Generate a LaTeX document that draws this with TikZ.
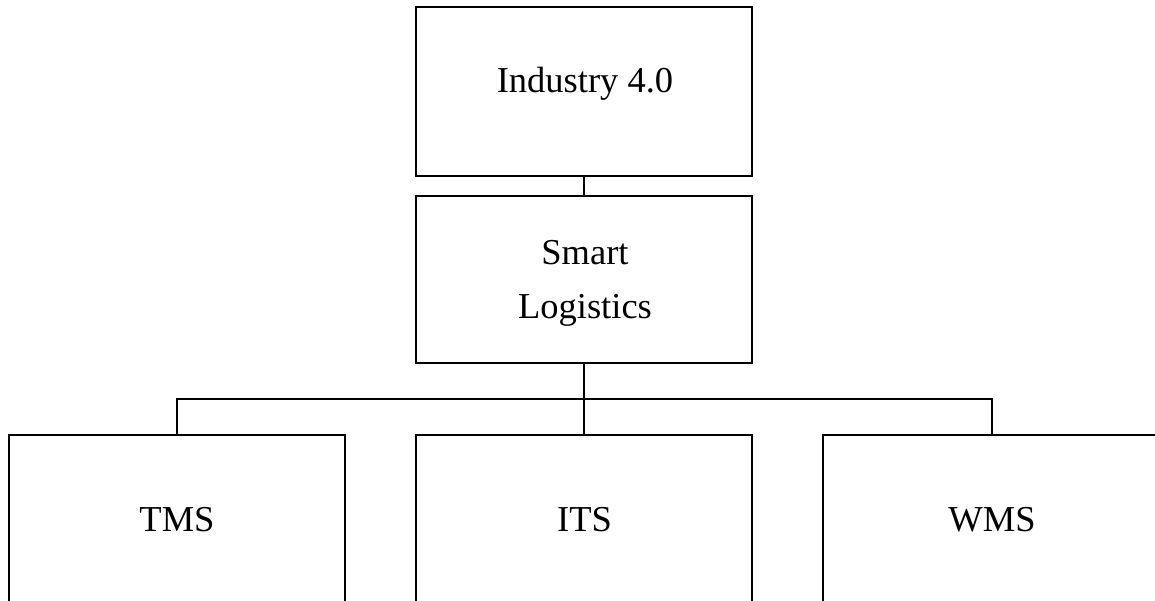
\documentclass[tikz,border=0pt]{standalone}
\usepackage{fontspec}
\setmainfont{Liberation Serif}
\begin{document}
\begin{tikzpicture}[x=1pt,y=-1pt,
  box/.style={draw=black,line width=1.6pt,minimum width=#1,inner sep=0pt,outer sep=0pt},
  lbl/.style={anchor=base,inner sep=0pt,font=\fontsize{36.5}{53}\selectfont,align=center},
  conn/.style={draw=black,line width=1.8pt}]
\useasboundingbox (0,0) rectangle (1155,601);
\clip (0,0) rectangle (1155,601);
\node[box=336pt,minimum height=169pt] (ind) at (584,91.5) {};
\node[box=336pt,minimum height=167pt] (sl) at (584,279.5) {};
\node[box=336pt,minimum height=200pt] (tms) at (177,535) {};
\node[box=336pt,minimum height=200pt] (its) at (584,535) {};
\node[box=338pt,minimum height=200pt] (wms) at (992,535) {};
\coordinate (bus) at (584,399);
\node[lbl] (tind) at (585,93) {Industry 4.0};
\node[lbl] (tsl1) at (585,265) {Smart};
\node[lbl] (tsl2) at (585,318) {Logistics};
\node[lbl] (ttms) at (177,531) {TMS};
\node[lbl] (tits) at (584.5,531) {ITS};
\node[lbl] (twms) at (992,531) {WMS};
\draw[conn] (ind.south) -- (sl.north);
\draw[conn] (sl.south) -- (its.north);
\draw[conn] (tms.north) |- (bus) -| (wms.north);
\end{tikzpicture}
\end{document}
